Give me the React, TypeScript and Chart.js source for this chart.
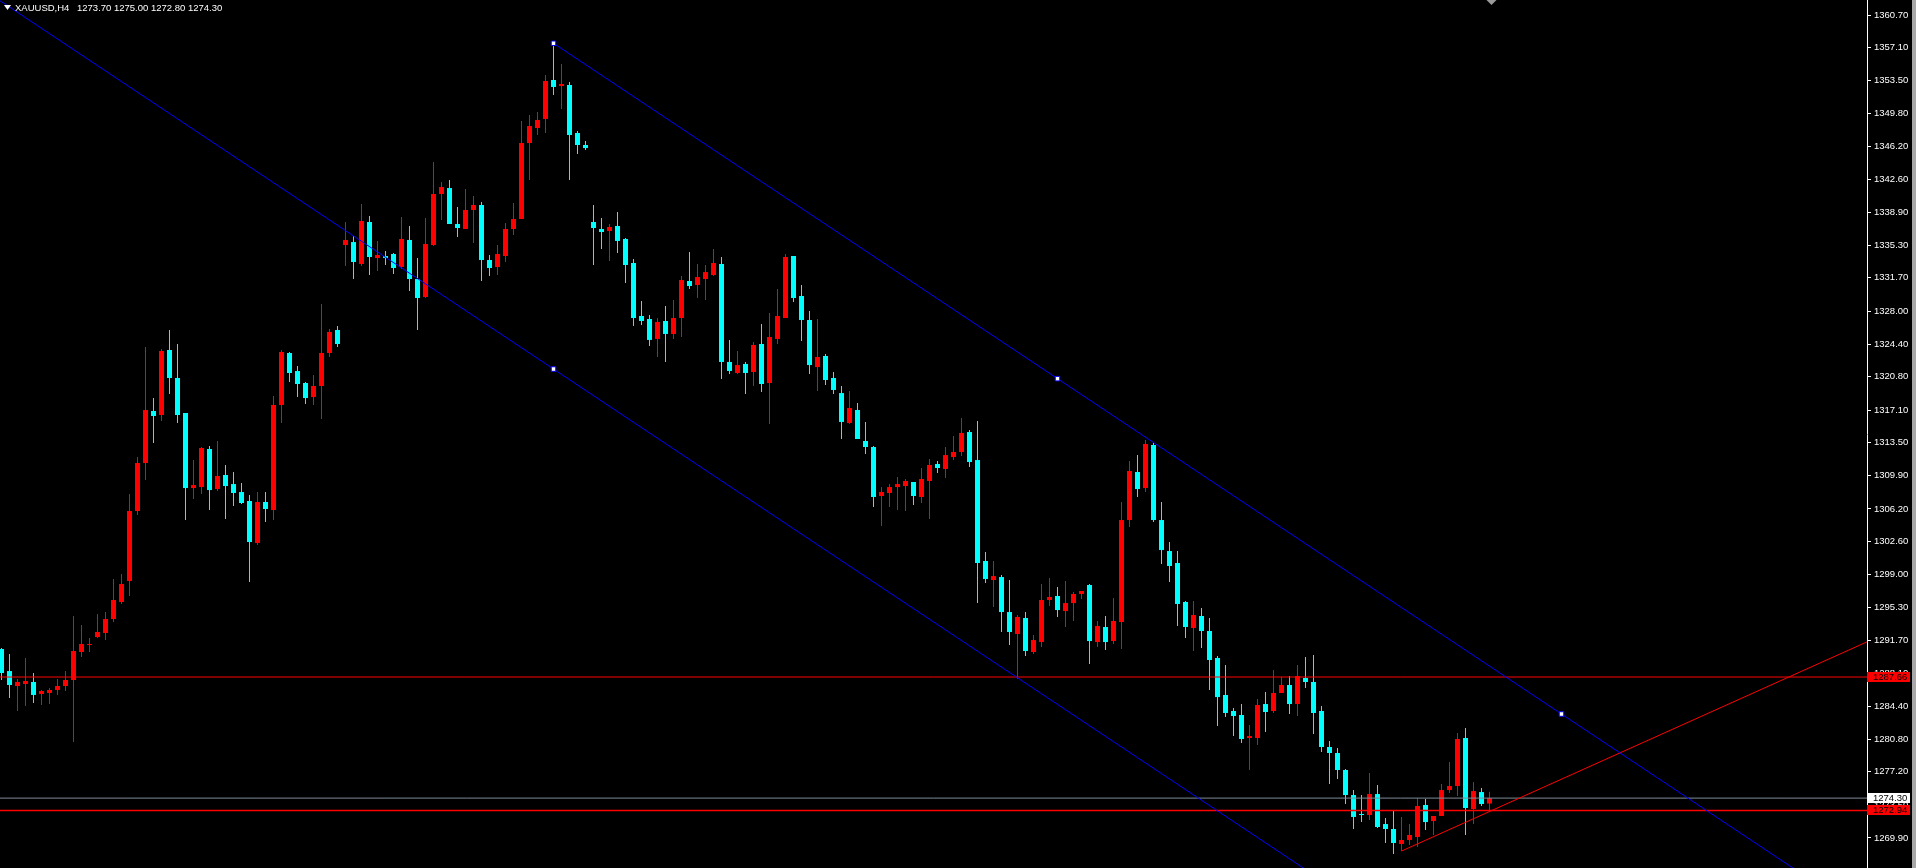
import React, { useEffect, useRef } from "react";
import { Chart, registerables } from "chart.js";

Chart.register(...registerables);

const SYMBOL = "XAUUSD,H4";

const opens = [
  1290.75, 1288.32, 1286.67, 1286.89, 1287.11, 1285.79, 1285.9, 1286.23, 1286.67, 1287.33,
  1290.42, 1291.19, 1292.07, 1292.52, 1294.06, 1295.94, 1298.25, 1305.98, 1311.27, 1317.01,
  1316.57, 1323.74, 1320.65, 1316.79, 1308.51, 1308.62, 1312.82, 1308.4, 1309.95, 1308.95,
  1308.07, 1307.08, 1302.45, 1306.97, 1306.09, 1317.67, 1323.41, 1321.42, 1320.1, 1318.55,
  1319.77, 1323.41, 1325.95, 1335.32, 1335.65, 1333.23, 1337.86, 1333.89, 1334.11, 1334.33,
  1332.9, 1335.88, 1331.57, 1329.59, 1335.32, 1340.95, 1341.61, 1337.64, 1337.09, 1339.19,
  1339.74, 1333.67, 1332.9, 1334.11, 1337.09, 1338.19, 1346.58, 1348.23, 1349.23, 1353.53,
  1352.87, 1352.98, 1347.68, 1346.36, 1337.86, 1337.09, 1336.87, 1337.42, 1335.99, 1333.34,
  1327.49, 1327.16, 1324.96, 1326.94, 1325.51, 1327.27, 1331.35, 1330.91, 1331.57, 1332.01,
  1333.23, 1322.42, 1321.2, 1322.2, 1321.31, 1324.4, 1320.1, 1324.96, 1327.27, 1334.11,
  1329.7, 1327.05, 1321.86, 1323.08, 1320.65, 1318.99, 1315.69, 1317.12, 1313.7, 1313.04,
  1307.63, 1307.96, 1308.62, 1308.73, 1309.18, 1307.52, 1309.29, 1311.16, 1310.61, 1311.93,
  1312.49, 1314.69, 1311.6, 1300.46, 1298.36, 1298.69, 1294.83, 1292.41, 1294.17, 1290.42,
  1291.52, 1296.16, 1296.6, 1294.94, 1295.82, 1296.82, 1297.81, 1291.52, 1293.18, 1291.63,
  1293.73, 1304.98, 1310.28, 1308.51, 1313.26, 1304.98, 1301.56, 1300.24, 1295.94, 1293.07,
  1294.39, 1292.74, 1289.76, 1285.68, 1283.91, 1283.47, 1280.93, 1280.93, 1284.68, 1283.91,
  1285.9, 1286.78, 1284.68, 1287.55, 1287.11, 1283.91, 1279.94, 1279.28, 1277.4, 1274.64,
  1272.55, 1272.44, 1274.75, 1271.44, 1270.89, 1269.24, 1269.68, 1270.01, 1273.54, 1271.77,
  1272.33, 1275.19, 1275.64, 1280.93, 1273.1, 1274.97, 1273.7,
];

const highs = [
  1290.86, 1290.2, 1287.44, 1289.76, 1288.1, 1286.23, 1286.45, 1287.44, 1288.32, 1294.39,
  1293.4, 1291.96, 1294.61, 1294.83, 1298.47, 1299.02, 1307.85, 1311.93, 1324.07, 1318.44,
  1323.85, 1325.95, 1324.4, 1316.79, 1311.6, 1313.04, 1313.15, 1313.7, 1311.05, 1310.28,
  1309.07, 1307.74, 1308.07, 1308.07, 1318.66, 1323.74, 1323.52, 1321.97, 1320.21, 1320.98,
  1328.81, 1326.06, 1326.39, 1337.86, 1336.32, 1339.85, 1338.52, 1335.77, 1334.66, 1334.44,
  1338.41, 1337.42, 1333.89, 1338.3, 1344.48, 1342.27, 1342.5, 1339.52, 1341.5, 1340.73,
  1340.07, 1334.22, 1335.32, 1337.75, 1339.96, 1349.01, 1349.67, 1350.0, 1354.08, 1357.61,
  1355.29, 1353.31, 1347.9, 1346.8, 1339.74, 1338.3, 1337.64, 1338.97, 1336.1, 1333.78,
  1329.15, 1327.6, 1327.27, 1328.59, 1329.26, 1331.9, 1334.55, 1333.23, 1333.12, 1334.88,
  1334.0, 1324.85, 1323.63, 1322.42, 1324.62, 1326.61, 1327.82, 1330.47, 1334.33, 1334.11,
  1330.91, 1328.04, 1327.16, 1323.3, 1321.31, 1319.77, 1319.21, 1317.89, 1315.8, 1313.15,
  1308.62, 1308.95, 1309.73, 1309.51, 1309.18, 1310.72, 1311.71, 1311.49, 1313.04, 1314.25,
  1316.24, 1314.91, 1315.91, 1301.45, 1300.46, 1298.91, 1298.36, 1294.5, 1294.83, 1292.3,
  1297.92, 1298.58, 1297.59, 1298.25, 1297.04, 1297.15, 1297.92, 1293.84, 1294.39, 1296.38,
  1306.97, 1311.49, 1312.15, 1313.81, 1313.59, 1306.97, 1302.56, 1301.56, 1296.05, 1296.05,
  1295.27, 1294.17, 1289.98, 1288.98, 1284.24, 1284.68, 1282.37, 1285.23, 1286.0, 1288.43,
  1287.66, 1287.77, 1288.98, 1289.87, 1290.09, 1284.46, 1280.6, 1279.83, 1277.51, 1275.19,
  1274.64, 1277.07, 1275.75, 1272.11, 1272.88, 1272.22, 1271.44, 1274.31, 1274.2, 1272.33,
  1275.86, 1278.28, 1281.48, 1282.03, 1276.08, 1275.42, 1275.0,
];

const lows = [
  1287.33, 1285.34, 1283.91, 1284.46, 1284.79, 1284.57, 1284.68, 1285.68, 1286.12, 1280.49,
  1289.87, 1290.42, 1291.96, 1291.74, 1293.73, 1295.72, 1296.6, 1305.53, 1309.4, 1313.48,
  1315.91, 1318.88, 1315.69, 1304.98, 1307.3, 1307.85, 1306.09, 1308.18, 1305.09, 1306.53,
  1306.75, 1298.14, 1302.23, 1304.76, 1304.98, 1315.69, 1320.21, 1318.55, 1317.78, 1317.67,
  1316.13, 1322.97, 1324.07, 1333.01, 1331.57, 1333.01, 1332.01, 1332.45, 1333.12, 1332.12,
  1332.68, 1330.25, 1325.95, 1329.48, 1335.21, 1338.08, 1337.64, 1336.21, 1337.09, 1335.54,
  1331.35, 1331.9, 1332.01, 1333.45, 1336.43, 1338.19, 1342.5, 1347.46, 1347.68, 1351.87,
  1350.33, 1342.5, 1345.36, 1345.8, 1333.12, 1334.88, 1333.56, 1334.44, 1331.13, 1326.39,
  1326.5, 1324.18, 1322.97, 1322.42, 1324.96, 1325.17, 1330.47, 1329.48, 1329.26, 1331.9,
  1320.54, 1321.09, 1321.09, 1318.88, 1319.77, 1319.1, 1315.58, 1324.4, 1327.27, 1329.04,
  1324.73, 1321.09, 1319.21, 1319.88, 1318.88, 1313.92, 1315.58, 1313.92, 1312.26, 1306.42,
  1304.32, 1306.42, 1306.09, 1305.98, 1306.64, 1306.86, 1305.09, 1310.17, 1309.62, 1311.6,
  1312.04, 1310.83, 1295.82, 1298.03, 1295.38, 1292.63, 1291.19, 1287.44, 1289.98, 1290.2,
  1290.97, 1295.49, 1294.28, 1293.18, 1293.84, 1296.27, 1289.09, 1290.97, 1290.64, 1291.3,
  1290.75, 1304.21, 1307.52, 1308.07, 1304.76, 1300.13, 1298.14, 1293.29, 1291.96, 1290.53,
  1290.86, 1286.23, 1282.26, 1283.25, 1281.15, 1280.38, 1277.4, 1280.16, 1281.6, 1283.69,
  1285.9, 1283.58, 1283.36, 1286.45, 1281.37, 1279.39, 1275.86, 1276.41, 1273.65, 1270.89,
  1271.66, 1271.88, 1271.0, 1269.35, 1268.13, 1268.46, 1269.13, 1268.91, 1270.78, 1270.23,
  1272.33, 1274.86, 1274.53, 1270.23, 1271.44, 1273.43, 1272.8,
];

const closes = [
  1288.1, 1286.78, 1287.11, 1287.22, 1285.68, 1286.12, 1286.23, 1286.67, 1287.33, 1290.53,
  1291.3, 1291.3, 1292.63, 1294.06, 1296.16, 1297.92, 1305.98, 1311.27, 1317.12, 1316.46,
  1323.63, 1320.65, 1316.57, 1308.51, 1308.84, 1312.93, 1308.29, 1309.84, 1308.73, 1307.96,
  1306.86, 1302.56, 1306.97, 1306.2, 1317.67, 1323.52, 1321.2, 1319.99, 1318.44, 1319.77,
  1323.41, 1325.73, 1324.4, 1335.88, 1333.45, 1337.97, 1334.0, 1334.22, 1333.89, 1332.79,
  1335.99, 1331.57, 1329.48, 1335.43, 1340.95, 1341.72, 1337.64, 1337.2, 1339.19, 1339.74,
  1333.67, 1332.79, 1334.33, 1337.09, 1338.19, 1346.58, 1348.45, 1349.12, 1353.42, 1352.76,
  1353.09, 1347.46, 1346.36, 1346.02, 1337.2, 1336.76, 1337.31, 1335.77, 1333.12, 1327.27,
  1326.94, 1324.85, 1326.83, 1325.51, 1327.27, 1331.46, 1330.8, 1331.79, 1332.34, 1333.34,
  1322.42, 1321.42, 1322.08, 1321.2, 1324.29, 1319.99, 1325.17, 1327.49, 1334.0, 1329.48,
  1327.05, 1322.08, 1322.97, 1320.43, 1319.33, 1315.8, 1317.34, 1313.92, 1313.04, 1307.52,
  1308.07, 1308.62, 1308.95, 1309.29, 1307.63, 1309.51, 1311.05, 1310.72, 1312.15, 1312.49,
  1314.58, 1311.38, 1300.24, 1298.47, 1298.8, 1294.83, 1292.63, 1294.28, 1290.53, 1291.74,
  1296.16, 1296.49, 1295.05, 1295.82, 1296.82, 1297.15, 1291.63, 1293.29, 1291.52, 1293.84,
  1304.98, 1310.39, 1308.4, 1313.37, 1304.98, 1301.67, 1299.91, 1295.72, 1293.18, 1294.5,
  1292.74, 1289.54, 1285.45, 1283.69, 1283.36, 1280.82, 1281.15, 1284.57, 1283.8, 1285.9,
  1286.78, 1284.68, 1287.77, 1287.11, 1283.69, 1279.94, 1279.28, 1277.4, 1274.64, 1272.22,
  1272.44, 1274.75, 1271.11, 1270.89, 1269.35, 1269.68, 1270.23, 1273.43, 1271.66, 1272.33,
  1275.19, 1275.64, 1280.82, 1273.21, 1275.08, 1273.65, 1274.3,
];

const priceTicks = [
  1360.7, 1357.1, 1353.5, 1349.8, 1346.2, 1342.6, 1338.9, 1335.3, 1331.7, 1328.0,
  1324.4, 1320.8, 1317.1, 1313.5, 1309.9, 1306.2, 1302.6, 1299.0, 1295.3, 1291.7,
  1288.1, 1284.4, 1280.8, 1277.2, 1273.5, 1269.9,
];

// Horizontal levels
const redLevels = [1287.66, 1272.94];
const bidPrice = 1274.3;

// Drawn objects: (bar index, price)
const channelUpper = [
  { x: 69, y: 1357.58 },
  { x: 132, y: 1320.58 },
  { x: 195, y: 1283.58 },
];
const channelLowerAnchor = { x: 69, y: 1321.64 };
const supportTrend = [
  { x: 175, y: 1268.46 },
  { x: 233.19, y: 1291.54 },
];

const Y_MIN = 1266.59;
const Y_MAX = 1362.355;
const X_MIN = -0.1875;
const X_MAX = 233.1875;

const RED = "#ff0000";
const AQUA = "#00ffff";
const BLUE = "#0000ff";
const FONT = '"Liberation Sans", Arial, sans-serif';

function yAt(p1: { x: number; y: number }, p2: { x: number; y: number }, x: number) {
  const slope = (p2.y - p1.y) / (p2.x - p1.x);
  return p1.y + slope * (x - p1.x);
}

export default function App() {
  const canvasRef = useRef<HTMLCanvasElement | null>(null);

  useEffect(() => {
    const canvas = canvasRef.current;
    if (!canvas) return;
    const idx = opens.map((_, i) => i);
    const colors = idx.map((i) => (closes[i] >= opens[i] ? RED : AQUA));
    const farX = 260;
    const upperEnd = { x: farX, y: yAt(channelUpper[0], channelUpper[2], farX) };
    const slope = (channelUpper[2].y - channelUpper[0].y) / (channelUpper[2].x - channelUpper[0].x);
    const lowerStart = { x: -10, y: channelLowerAnchor.y + slope * (-10 - channelLowerAnchor.x) };
    const lowerEnd = { x: farX, y: channelLowerAnchor.y + slope * (farX - channelLowerAnchor.x) };
    const trendEnd = { x: farX, y: yAt(supportTrend[0], supportTrend[1], farX) };
    const last = opens.length - 1;

    const overlay = {
      id: "mt4Overlay",
      afterDraw(chart: any) {
        const ctx = chart.ctx;
        const ys = chart.scales.y;
        const xs = chart.scales.x;
        const area = chart.chartArea;
        ctx.save();
        // price boxes on the axis
        const boxes = [
          { v: redLevels[0], bg: RED, fg: "#000" },
          { v: bidPrice, bg: "#ffffff", fg: "#000" },
          { v: redLevels[1], bg: RED, fg: "#000" },
        ]
          .map((b) => ({ ...b, py: ys.getPixelForValue(b.v) }))
          .sort((a, b) => a.py - b.py);
        let prevBottom = -Infinity;
        ctx.font = `9.5px ${FONT}`;
        ctx.textBaseline = "middle";
        ctx.textAlign = "left";
        for (const b of boxes) {
          let top = Math.round(b.py) - 5;
          if (top < prevBottom) top = prevBottom;
          ctx.fillStyle = b.bg;
          ctx.fillRect(area.right, top, 43, 10);
          ctx.fillStyle = b.fg;
          ctx.fillText(b.v.toFixed(2), area.right + 6, top + 5.5);
          prevBottom = top + 10;
        }
        // header
        ctx.fillStyle = "#ffffff";
        ctx.beginPath();
        ctx.moveTo(4, 5);
        ctx.lineTo(11, 5);
        ctx.lineTo(7.5, 10);
        ctx.closePath();
        ctx.fill();
        ctx.textBaseline = "alphabetic";
        ctx.font = `9.5px ${FONT}`;
        ctx.fillText(SYMBOL, 15, 11);
        const ohlc = [opens[last], highs[last], lows[last], closes[last]].map((v) => v.toFixed(2)).join(" ");
        ctx.fillText(ohlc, 77, 11);
        // shift marker
        const sx = xs.getPixelForValue(last) + 2;
        ctx.fillStyle = "#9a9a9a";
        ctx.beginPath();
        ctx.moveTo(sx - 5, 0);
        ctx.lineTo(sx + 5, 0);
        ctx.lineTo(sx, 5);
        ctx.closePath();
        ctx.fill();
        ctx.restore();
      },
    };

    const lineDs = (data: any[], color: string, width: number, order: number) => ({
      type: "line",
      data,
      borderColor: color,
      borderWidth: width,
      pointRadius: 0,
      fill: false,
      tension: 0,
      order,
    });

    const chart = new Chart(canvas, {
      type: "bar",
      data: {
        datasets: [
          {
            type: "line",
            data: [...channelUpper, channelLowerAnchor],
            showLine: false,
            pointStyle: "rect",
            pointRadius: 3.2,
            pointBackgroundColor: "#ffffff",
            pointBorderColor: BLUE,
            pointBorderWidth: 1,
            order: 0,
          } as any,
          lineDs([channelUpper[0], upperEnd], BLUE, 1, 1),
          lineDs([lowerStart, lowerEnd], BLUE, 1, 1),
          lineDs([supportTrend[0], trendEnd], RED, 1, 1),
          lineDs([{ x: -10, y: redLevels[0] }, { x: farX, y: redLevels[0] }], RED, 1, 1),
          lineDs([{ x: -10, y: redLevels[1] }, { x: farX, y: redLevels[1] }], RED, 1.5, 1),
          lineDs([{ x: -10, y: bidPrice }, { x: farX, y: bidPrice }], "#7f8b98", 1, 1),
          {
            type: "bar",
            data: idx.map((i) => ({ x: i, y: [opens[i], closes[i]] })),
            backgroundColor: colors,
            barThickness: 5,
            grouped: false,
            minBarLength: 1,
            borderWidth: 0,
            inflateAmount: 0,
            order: 2,
          } as any,
          {
            type: "bar",
            data: idx.map((i) => ({ x: i, y: [lows[i], highs[i]] })),
            backgroundColor: colors,
            barThickness: 1,
            grouped: false,
            minBarLength: 1,
            borderWidth: 0,
            inflateAmount: 0,
            order: 3,
          } as any,
        ] as any,
      },
      options: {
        animation: false,
        responsive: false,
        maintainAspectRatio: false,
        devicePixelRatio: 1,
        events: [],
        layout: { padding: 0, autoPadding: false },
        plugins: {
          legend: { display: false },
          tooltip: { enabled: false },
          title: { display: false },
        },
        scales: {
          x: {
            type: "linear",
            min: X_MIN,
            max: X_MAX,
            display: false,
            offset: false,
            bounds: "data",
          },
          y: {
            type: "linear",
            position: "right",
            min: Y_MIN,
            max: Y_MAX,
            bounds: "data",
            afterBuildTicks: (s: any) => {
              s.ticks = priceTicks.map((v) => ({ value: v }));
            },
            afterFit: (s: any) => {
              s.width = 45;
              s.paddingTop = 0;
              s.paddingBottom = 0;
            },
            ticks: {
              color: "#ffffff",
              autoSkip: false,
              padding: 3,
              font: { family: FONT, size: 9.5 },
              callback: (v: any) => Number(v).toFixed(2),
            },
            grid: {
              drawOnChartArea: false,
              drawTicks: true,
              tickLength: 4,
              color: "#ffffff",
            },
            border: { display: true, color: "#ffffff", width: 1 },
          },
        },
      } as any,
      plugins: [overlay],
    });

    return () => chart.destroy();
  }, []);

  return (
    <div
      style={{
        position: "fixed",
        left: 0,
        top: 0,
        width: 1916,
        height: 868,
        display: "flex",
        background: "#000",
      }}
    >
      <canvas
        ref={canvasRef}
        width={1912}
        height={868}
        style={{ display: "block", width: 1912, height: 868, background: "#000" }}
      />
      <div style={{ width: 4, height: 868, background: "#a8a8a8" }} />
    </div>
  );
}
